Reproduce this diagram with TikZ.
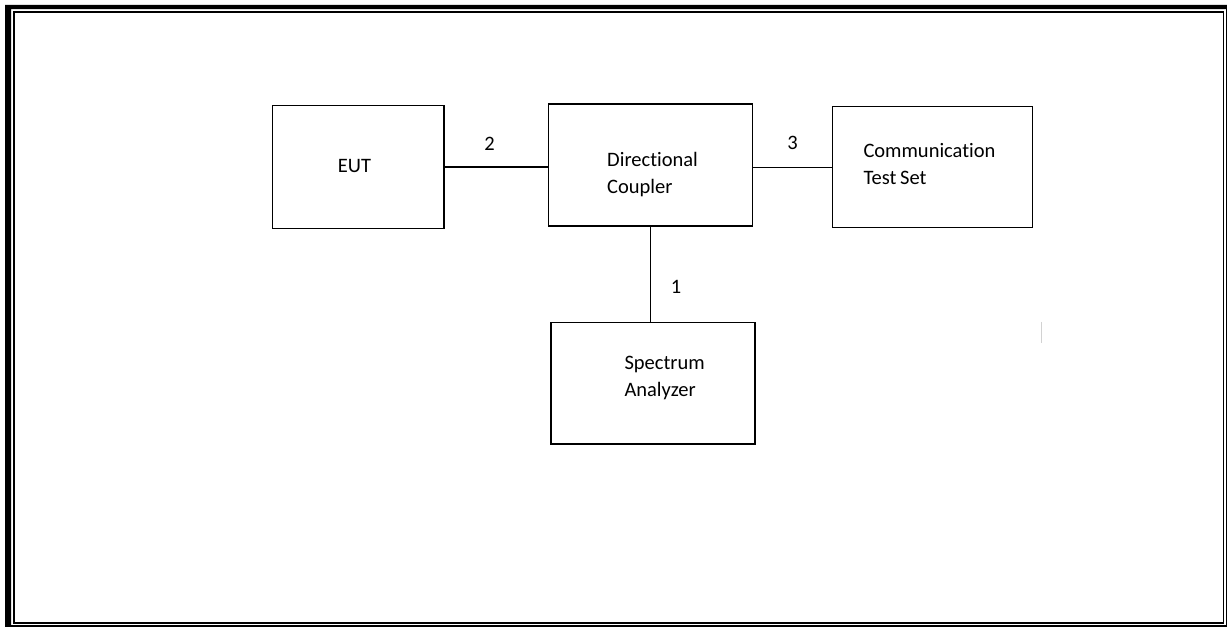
\documentclass[tikz,border=0pt]{standalone}
\usepackage{fontspec}
\setmainfont[Ligatures=NoCommon]{Carlito}
\begin{document}
\begin{tikzpicture}[x=1pt,y=-1pt,
  box/.style={draw=black,line width=1.4pt,rectangle,inner sep=0pt},
  txt/.style={inner sep=0pt,align=left,font=\fontsize{20.5pt}{27pt}\selectfont},
  lbl/.style={inner sep=0pt,font=\fontsize{20.5pt}{27pt}\selectfont},
  wire/.style={line width=1.3pt}]
\useasboundingbox (0,0) rectangle (1227,628);
% frame
\fill[black,even odd rule] (5,5) rectangle (1227.3,626.8) (11,9.2) rectangle (1226,625);
\draw[line width=1.6pt] (14,11.8) rectangle (1223.6,623.1);
% boxes
\node[box,minimum width=171.3pt,minimum height=122.6pt] (eut) at (358.35,167) {};
\node[box,minimum width=204.4pt,minimum height=122pt] (dc) at (650.5,165) {};
\node[box,minimum width=200pt,minimum height=121pt] (cts) at (932.7,167.2) {};
\node[box,minimum width=204pt,minimum height=121.7pt] (sa) at (653,383.2) {};
% texts
\node[lbl,anchor=base] (teut) at (354.5,172.3) {EUT};
\node[txt,anchor=base west] (tdc) at (607,193.5) {Directional\\Coupler};
\node[txt,anchor=base west] (tcts) at (863.3,185) {Communication\\Test\kern-1pt{} Set};
\node[txt,anchor=base west] (tsa) at (624.3,396.5) {Spectrum\\Analyzer};
% connectors
\draw[wire] (eut.east) -- (eut.east -| dc.west);
\draw[wire] (cts.west -| dc.east) -- (cts.west);
\draw[wire] (dc.south) -- (dc.south |- sa.north);
% labels
\node[lbl,anchor=base] (l2) at (489.5,150.7) {2};
\node[lbl,anchor=base] (l3) at (792.5,150) {3};
\node[lbl,anchor=base] (l1) at (676,293.3) {1};
% faint mark
\draw[gray!35,line width=1.3pt] (1041.3,322) coordinate (m1) -- (1041.3,343) coordinate (m2);
\end{tikzpicture}
\end{document}
